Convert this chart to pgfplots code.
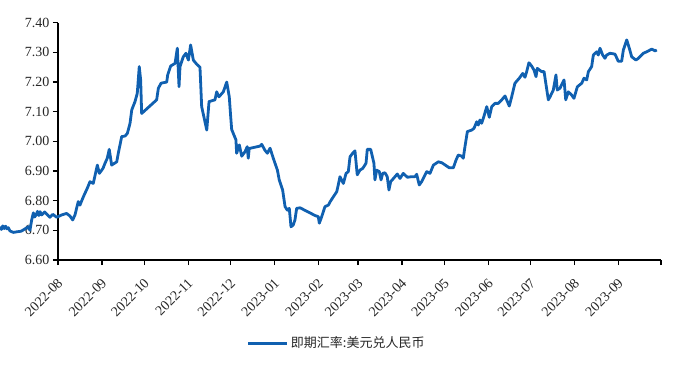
\documentclass[border=0pt]{standalone}
\usepackage{fontspec}
\setmainfont{Liberation Serif}
\newfontfamily\cjk{Noto Sans CJK SC}
\usepackage{pgfplots}
\pgfplotsset{compat=1.18}
\definecolor{lineblue}{HTML}{1060B0}
\begin{document}
\begin{tikzpicture}
\begin{axis}[
  scale only axis, width=603bp, height=237.3bp,
  xmin=0, xmax=426, ymin=6.6, ymax=7.4,
  axis lines=left, axis line style={-, line width=1.4bp, black},
  clip=false,
  tick align=outside, major tick length=5bp,
  tick style={line width=1.4bp, black},
  xtick={0,31,61,92,122,153,184,212,243,273,304,334,365,396,426},
  xticklabels={2022-08,2022-09,2022-10,2022-11,2022-12,2023-01,2023-02,2023-03,2023-04,2023-05,2023-06,2023-07,2023-08,2023-09,{}},
  ytick={6.6,6.7,6.8,6.9,7.0,7.1,7.2,7.3,7.4},
  yticklabel style={/pgf/number format/.cd, fixed, fixed zerofill, precision=2},
  /pgf/number format/assume math mode=true,
  tick label style={font=\fontsize{14bp}{16bp}\selectfont, text=black!85},
  xticklabel style={xshift=3bp, yshift=-15bp, rotate=45, anchor=east, inner sep=1bp},
  legend style={at={(0.313,-0.35)}, anchor=west, draw=none, fill=none,
    font=\cjk\fontsize{13bp}{15bp}\selectfont, inner sep=0pt, text=black!85},
  legend image code/.code={\draw[line width=3bp,lineblue] (0bp,0bp) -- (39bp,0bp);},
]
\addplot[lineblue, line width=2.8bp, line join=round] coordinates {
(-41.0,6.712) (-40.0,6.703) (-39.0,6.715) (-38.0,6.706) (-37.0,6.714) (-36.0,6.705) (-35.1,6.709) (-33.9,6.698) (-31.5,6.693) (-29.2,6.695) (-26,6.697) (-23.3,6.705) (-21.0,6.712) (-19.8,6.700) (-18.6,6.735) (-17.4,6.759) (-16.5,6.745) (-15.5,6.752) (-14.5,6.764) (-13.5,6.750) (-12.7,6.763) (-11.5,6.752) (-10.6,6.756) (-9.5,6.762) (-8.0,6.755) (-5.7,6.744) (-3.7,6.754) (-0.9,6.744) (2.6,6.752) (6.1,6.757) (8.5,6.748) (10.4,6.735) (12.0,6.752) (14.3,6.797) (15.5,6.785) (17.9,6.813) (20.7,6.842) (22.6,6.864) (24.9,6.858) (27.8,6.920) (29.2,6.892) (31.8,6.909) (33.2,6.926) (34.8,6.943) (36.2,6.973) (37.9,6.920) (41.5,6.931) (42.6,6.960) (45.0,7.016) (47.4,7.018) (49.0,7.027) (50.9,7.061) (52.1,7.106) (54.4,7.134) (56.0,7.162) (57.4,7.252) (58.4,7.207) (59.1,7.094) (69.7,7.140) (70.9,7.179) (72.8,7.196) (76.8,7.200) (77.5,7.224) (79.6,7.254) (82.7,7.263) (84.3,7.314) (85.5,7.184) (86.2,7.252) (88.5,7.285) (90.4,7.297) (92.1,7.274) (93.7,7.325) (95.6,7.274) (98.0,7.260) (100.3,7.250) (101.5,7.117) (105.1,7.038) (106.7,7.134) (110.9,7.140) (112.1,7.167) (113.7,7.150) (116.8,7.167) (119.2,7.200) (121.0,7.150) (122.0,7.083) (122.7,7.040) (125.7,7.005) (126.2,6.960) (128.1,6.988) (129.8,6.950) (132.1,6.965) (133.7,6.982) (134.4,6.943) (135.1,6.976) (142.7,6.984) (143.9,6.990) (146.2,6.970) (147.9,6.960) (149.8,6.977) (152.1,6.943) (155.0,6.903) (156.3,6.870) (158.7,6.836) (160.4,6.780) (162.0,6.768) (163.4,6.774) (164.6,6.712) (166.2,6.718) (167.4,6.735) (168.6,6.774) (171.0,6.776) (181.6,6.750) (183.9,6.746) (184.6,6.724) (186.3,6.746) (188.6,6.780) (191.0,6.785) (192.2,6.796) (194.5,6.813) (196.9,6.830) (198.0,6.853) (199.2,6.881) (201.6,6.858) (203.5,6.892) (205.1,6.898) (206.3,6.948) (208.2,6.960) (209.8,6.968) (211.4,6.887) (213.3,6.903) (215.3,6.909) (217.6,6.926) (218.5,6.973) (220.9,6.973) (223.2,6.926) (223.9,6.870) (225.1,6.903) (227.0,6.898) (228.2,6.870) (229.4,6.892) (231.0,6.894) (232.6,6.881) (233.8,6.836) (235.0,6.864) (238.1,6.881) (239.7,6.890) (241.6,6.875) (243.9,6.892) (246.8,6.879) (249.9,6.881) (252.2,6.881) (253.4,6.889) (255.2,6.853) (256.9,6.864) (260.5,6.898) (262.8,6.892) (265.2,6.920) (268.7,6.931) (271.1,6.928) (276.4,6.911) (279.3,6.911) (281.2,6.937) (282.8,6.954) (285.2,6.950) (286.3,6.943) (287.5,6.982) (289.2,7.033) (292.3,7.038) (293.9,7.044) (295.8,7.066) (296.9,7.055) (298.1,7.072) (299.3,7.061) (300.5,7.078) (302.9,7.117) (304.7,7.081) (306.4,7.117) (308.7,7.128) (311.1,7.128) (313.5,7.140) (315.8,7.153) (318.8,7.119) (320.5,7.150) (322.8,7.196) (325.9,7.213) (328.3,7.229) (329.9,7.216) (331.1,7.235) (332.7,7.265) (334.6,7.254) (336.3,7.240) (337.7,7.218) (338.6,7.246) (341.7,7.235) (343.4,7.235) (344.8,7.190) (346.4,7.140) (347.6,7.150) (349.9,7.173) (351.8,7.224) (352.7,7.173) (354.6,7.179) (357.5,7.207) (358.7,7.140) (360.5,7.167) (362.9,7.156) (364.5,7.145) (366.9,7.184) (370.0,7.196) (371.6,7.213) (373.5,7.207) (374.7,7.235) (377.0,7.252) (378.2,7.291) (380.6,7.302) (381.7,7.291) (382.9,7.314) (384.8,7.291) (386.4,7.280) (387.6,7.291) (390.0,7.297) (393.5,7.294) (395.8,7.270) (398.2,7.270) (399.4,7.308) (401.8,7.342) (403.6,7.314) (405.3,7.285) (408.3,7.274) (410.0,7.280) (413.5,7.297) (415.9,7.302) (418.3,7.308) (419.5,7.311) (421.8,7.305) (423.0,7.308)
};
\addlegendentry{即期汇率:美元兑人民币}
\coordinate (O) at (axis cs:0,6.6);
\end{axis}
\pgfresetboundingbox
\path[use as bounding box] ([xshift=-58bp,yshift=-110bp]O) rectangle ([xshift=624bp,yshift=260bp]O);
\end{tikzpicture}
\end{document}
